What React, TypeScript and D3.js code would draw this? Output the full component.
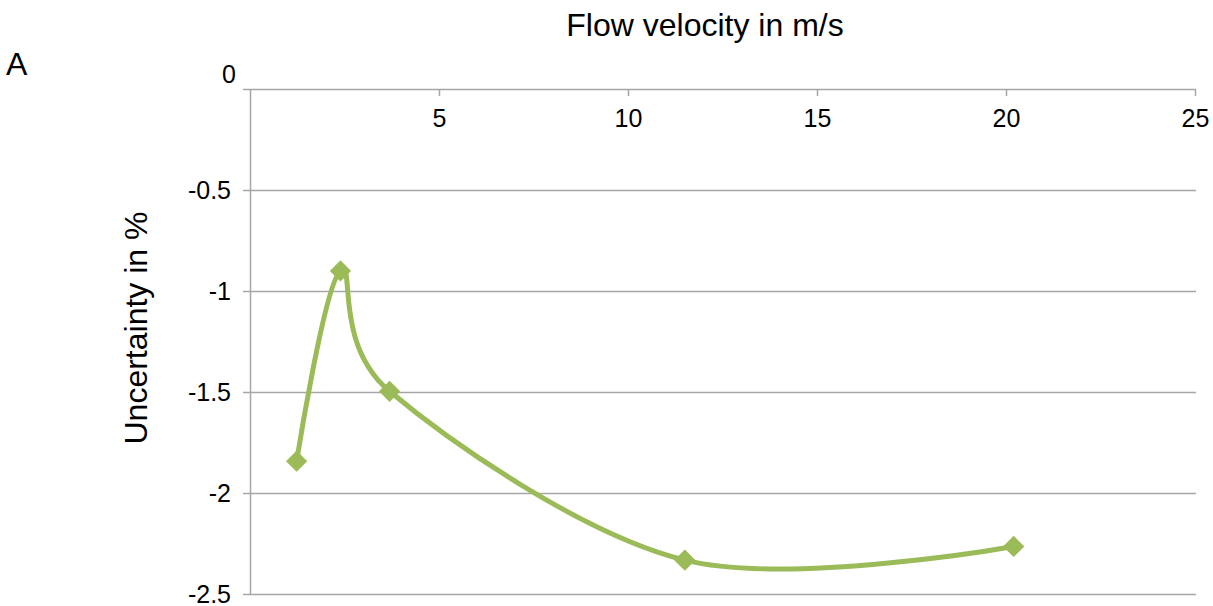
import React from "react";
import * as d3 from "d3";

const velocity = [1.22, 2.38, 3.68, 11.49, 20.19];
const uncertainty = [-1.84, -0.898, -1.494, -2.33, -2.262];
const xTicks = [5, 10, 15, 20, 25];
const yTicks = [0, -0.5, -1, -1.5, -2, -2.5];

const W = 1213;
const H = 606;
const FONT = "'Liberation Sans', Arial, sans-serif";

export default function App() {
  const x = d3.scaleLinear().domain([0, 25]).range([250.5, 1195.5]);
  const y = d3.scaleLinear().domain([0, -2.5]).range([89.5, 594.5]);
  const pts = velocity.map((v, i) => [x(v), y(uncertainty[i])] as [number, number]);
  const line = d3.line().curve(d3.curveCatmullRom.alpha(0))(pts) || "";
  const grid = "#a6a6a6";
  return (
    <svg width={W} height={H} style={{ position: "absolute", left: 0, top: 0 }}>
      <rect width={W} height={H} fill="#fff" />
      {yTicks.map((t) => (
        <g key={t}>
          <line x1={243} x2={1196} y1={y(t)} y2={y(t)} stroke={grid} strokeWidth={1.5} />
          <text
            x={t === 0 ? 236 : 231}
            y={t === 0 ? 74 : y(t) - 1}
            textAnchor="end"
            dominantBaseline="central"
            fontFamily={FONT}
            fontSize={25}
            fill="#000"
          >
            {t === 0 ? "0" : String(t)}
          </text>
        </g>
      ))}
      <line x1={x(0)} x2={x(0)} y1={89.5} y2={594.5} stroke={grid} strokeWidth={1.5} />
      {xTicks.map((t) => (
        <g key={t}>
          <line x1={x(t)} x2={x(t)} y1={89.5} y2={96} stroke={grid} strokeWidth={1.5} />
          <text x={x(t)} y={127} textAnchor="middle" fontFamily={FONT} fontSize={25} fill="#000">
            {t}
          </text>
        </g>
      ))}
      <path d={line} fill="none" stroke="#9bbb59" strokeWidth={5} strokeLinejoin="round" />
      {pts.map(([px, py], i) => (
        <rect
          key={i}
          x={px - 7.5}
          y={py - 7.5}
          width={15}
          height={15}
          fill="#9bbb59"
          transform={`rotate(45 ${px} ${py})`}
        />
      ))}
      <text x={705} y={36} textAnchor="middle" fontFamily={FONT} fontSize={32} fill="#000">
        Flow velocity in m/s
      </text>
      <text
        transform={`translate(147 328) rotate(-90)`}
        textAnchor="middle"
        fontFamily={FONT}
        fontSize={32}
        fill="#000"
      >
        Uncertainty in %
      </text>
      <text x={6} y={75} fontFamily={FONT} fontSize={32} fill="#000">
        A
      </text>
    </svg>
  );
}
